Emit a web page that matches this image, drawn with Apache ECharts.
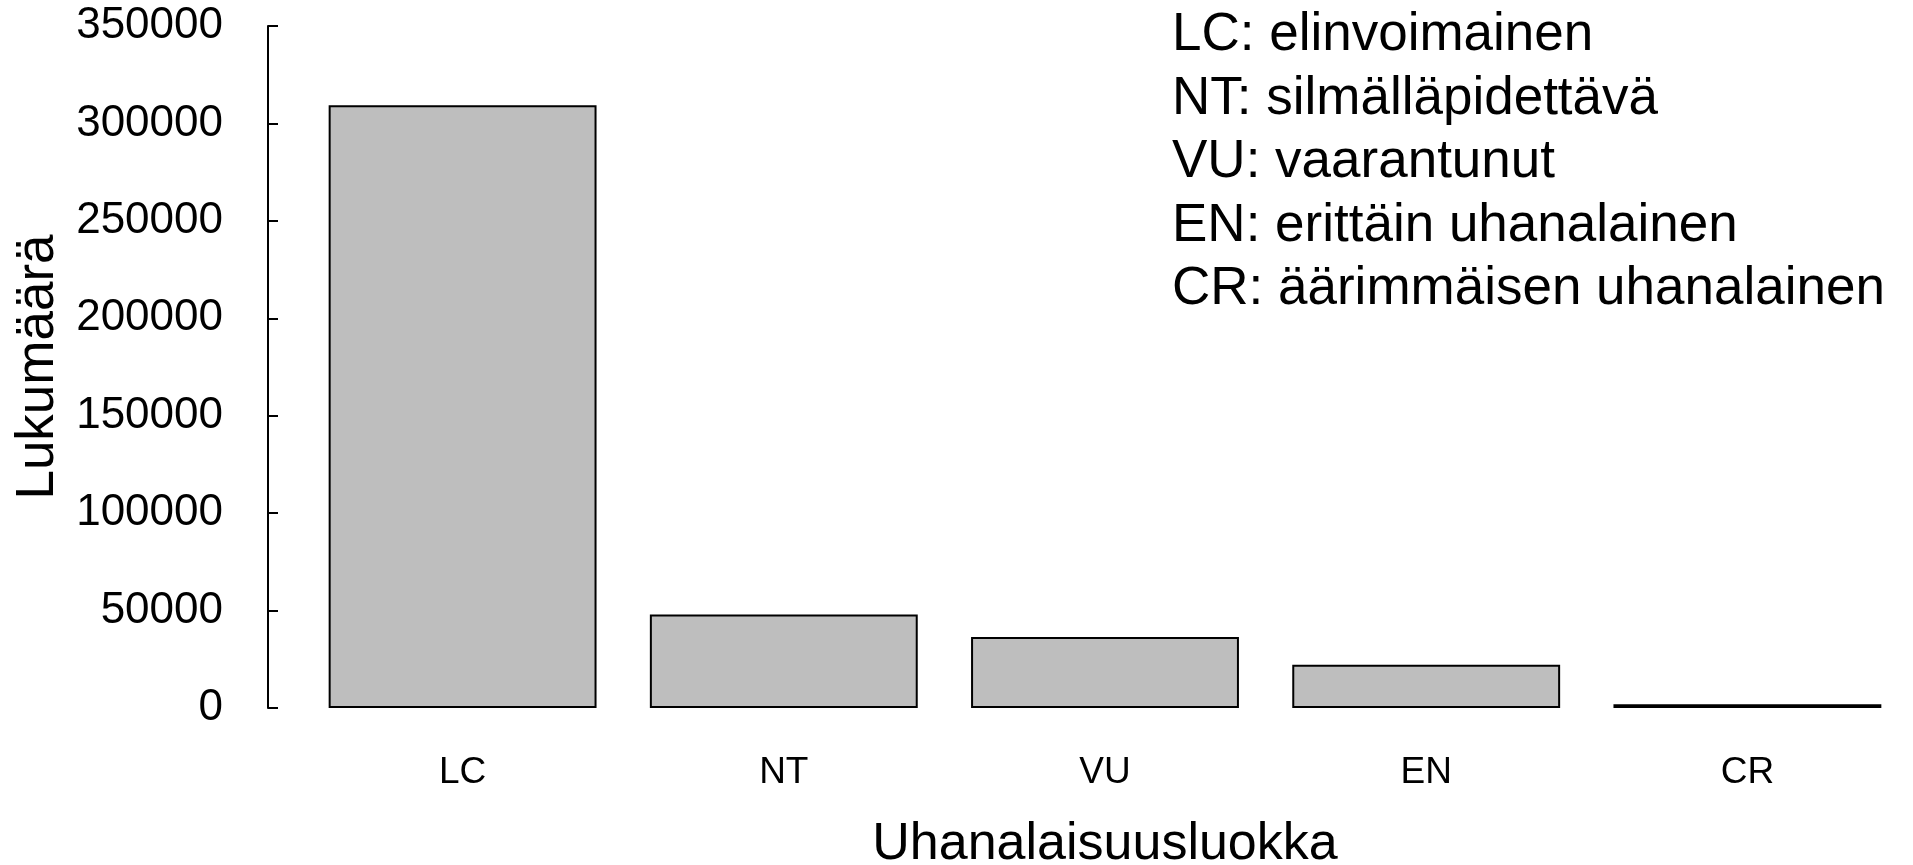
<!DOCTYPE html>
<html>
<head>
<meta charset="utf-8">
<script src="https://cdn.jsdelivr.net/npm/echarts@6/dist/echarts.min.js"></script>
<style>
  html, body { margin: 0; padding: 0; background: #fff; }
  #chart { width: 1913px; height: 865px; }
</style>
</head>
<body>
<div id="chart"></div>
<script>
  const categories = ['LC', 'NT', 'VU', 'EN', 'CR']
  const counts = [309300, 48000, 36400, 22200, 1900]
  const yTicks = [0, 50000, 100000, 150000, 200000, 250000, 300000, 350000]
  const legendLines = [
    'LC: elinvoimainen',
    'NT: silmälläpidettävä',
    'VU: vaarantunut',
    'EN: erittäin uhanalainen',
    'CR: äärimmäisen uhanalainen',
  ]

  const font = '"Liberation Sans", Arial, sans-serif'
  const mychart = echarts.init(document.getElementById('chart'))
  mychart.setOption({
    animation: false,
    grid: {
      left: 302,
      right: 5,
      top: 26,
      bottom: 157,
      containLabel: false,
      outerBoundsMode: 'none',
    },
    xAxis: {
      type: 'category',
      data: categories,
      axisLine: { show: false },
      axisTick: { show: false },
      axisLabel: {
        color: '#000',
        fontFamily: font,
        fontSize: 37,
        margin: 46,
      },
      name: 'Uhanalaisuusluokka',
      nameLocation: 'middle',
      nameGap: 111,
      nameTextStyle: {
        color: '#000',
        fontFamily: font,
        fontSize: 52,
      },
    },
    yAxis: {
      type: 'value',
      min: yTicks[0],
      max: yTicks[yTicks.length - 1],
      interval: 50000,
      offset: 34,
      splitLine: { show: false },
      axisLine: {
        show: true,
        lineStyle: { color: '#000', width: 2 },
      },
      axisTick: {
        show: true,
        inside: true,
        length: 10,
        lineStyle: { color: '#000', width: 2 },
      },
      axisLabel: {
        color: '#000',
        fontFamily: font,
        fontSize: 44,
        margin: 45,
        formatter: (v) => String(v),
      },
      name: 'Lukumäärä',
      nameLocation: 'middle',
      nameGap: 198,
      nameTextStyle: {
        color: '#000',
        fontFamily: font,
        fontSize: 53,
      },
    },
    series: [
      {
        type: 'bar',
        data: counts,
        barWidth: '83.4%',
        itemStyle: {
          color: '#bebebe',
          borderColor: '#000',
          borderWidth: 2,
        },
      },
    ],
    graphic: [
      {
        type: 'text',
        left: 1172,
        top: 4,
        style: {
          text: legendLines.join('\n'),
          fontFamily: font,
          fontSize: 53,
          lineHeight: 63.5,
          fill: '#000',
        },
      },
    ],
  })
</script>
</body>
</html>
